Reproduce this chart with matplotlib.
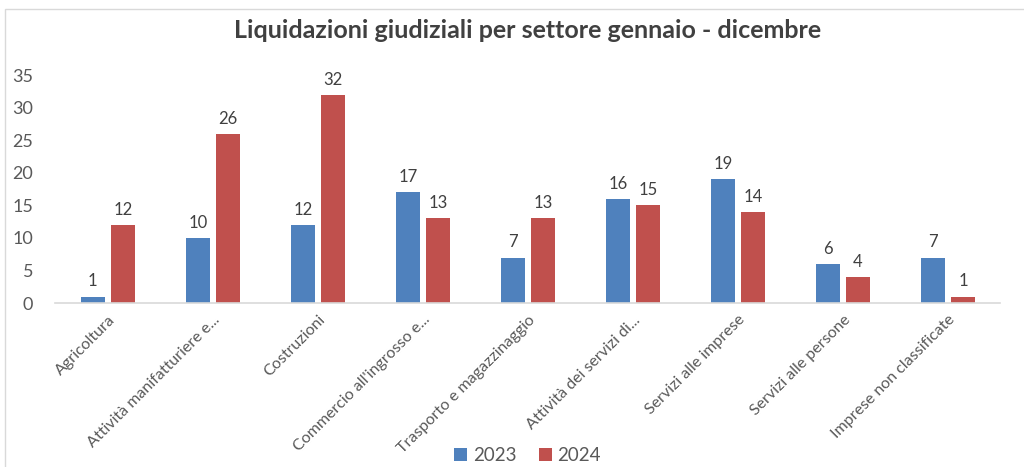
import numpy as np
import matplotlib.pyplot as plt
from matplotlib.patches import Rectangle

categories = ['Agricoltura', 'Attività manifatturiere e...', 'Costruzioni',
              "Commercio all'ingrosso e...", 'Trasporto e magazzinaggio',
              'Attività dei servizi di...', 'Servizi alle imprese',
              'Servizi alle persone', 'Imprese non classificate']
values_2023 = [1, 10, 12, 17, 7, 16, 19, 6, 7]
values_2024 = [12, 26, 32, 13, 13, 15, 14, 4, 1]
series_names = ['2023', '2024']
colors = ['#4f81bd', '#c0504d']

plt.rcParams['font.family'] = ['Lato', 'DejaVu Sans']

fig = plt.figure(figsize=(10.24, 4.67), dpi=100)
ax = fig.add_axes([0.054, 0.351, 0.923, 0.488])

x = np.arange(len(categories))
w = 0.23
off = 0.143
for vals, name, c, sign in zip([values_2023, values_2024], series_names, colors, [-1, 1]):
    bars = ax.bar(x + sign * off, vals, width=w, color=c, label=name)
    for b, v in zip(bars, vals):
        ax.text(b.get_x() + b.get_width() / 2, v + 1.1, str(v), ha='center', va='bottom',
                fontsize=12, color='#404040')

ax.set_xlim(-0.5, len(categories) - 0.5)
ax.set_ylim(0, 35)
ax.set_yticks(range(0, 36, 5))
ax.set_xticks(x)
ax.set_xticklabels(categories, rotation=45, ha='right', rotation_mode='anchor',
                   fontsize=11.5, color='#595959')
ax.tick_params(axis='y', length=0, labelsize=13, labelcolor='#595959', pad=16)
ax.tick_params(axis='x', length=0, pad=7)
for s in ['top', 'right', 'left']:
    ax.spines[s].set_visible(False)
ax.spines['bottom'].set_color('#d9d9d9')
ax.spines['bottom'].set_linewidth(1.2)

fig.suptitle('Liquidazioni giudiziali per settore gennaio - dicembre', x=0.515, y=0.96,
             fontsize=18, fontweight='bold', color='#404040')

fig.legend(loc='lower center', bbox_to_anchor=(0.515, -0.03), ncol=2, frameon=False,
           fontsize=13.5, handlelength=0.7, handleheight=0.7, handletextpad=0.3,
           columnspacing=1.2, labelcolor='#595959')

fig.patches.append(Rectangle((0.005, -0.02), 1.1, 1.0, transform=fig.transFigure,
                             fill=False, edgecolor='#d9d9d9', linewidth=1.0))

fig.savefig('out.png', dpi=100)
